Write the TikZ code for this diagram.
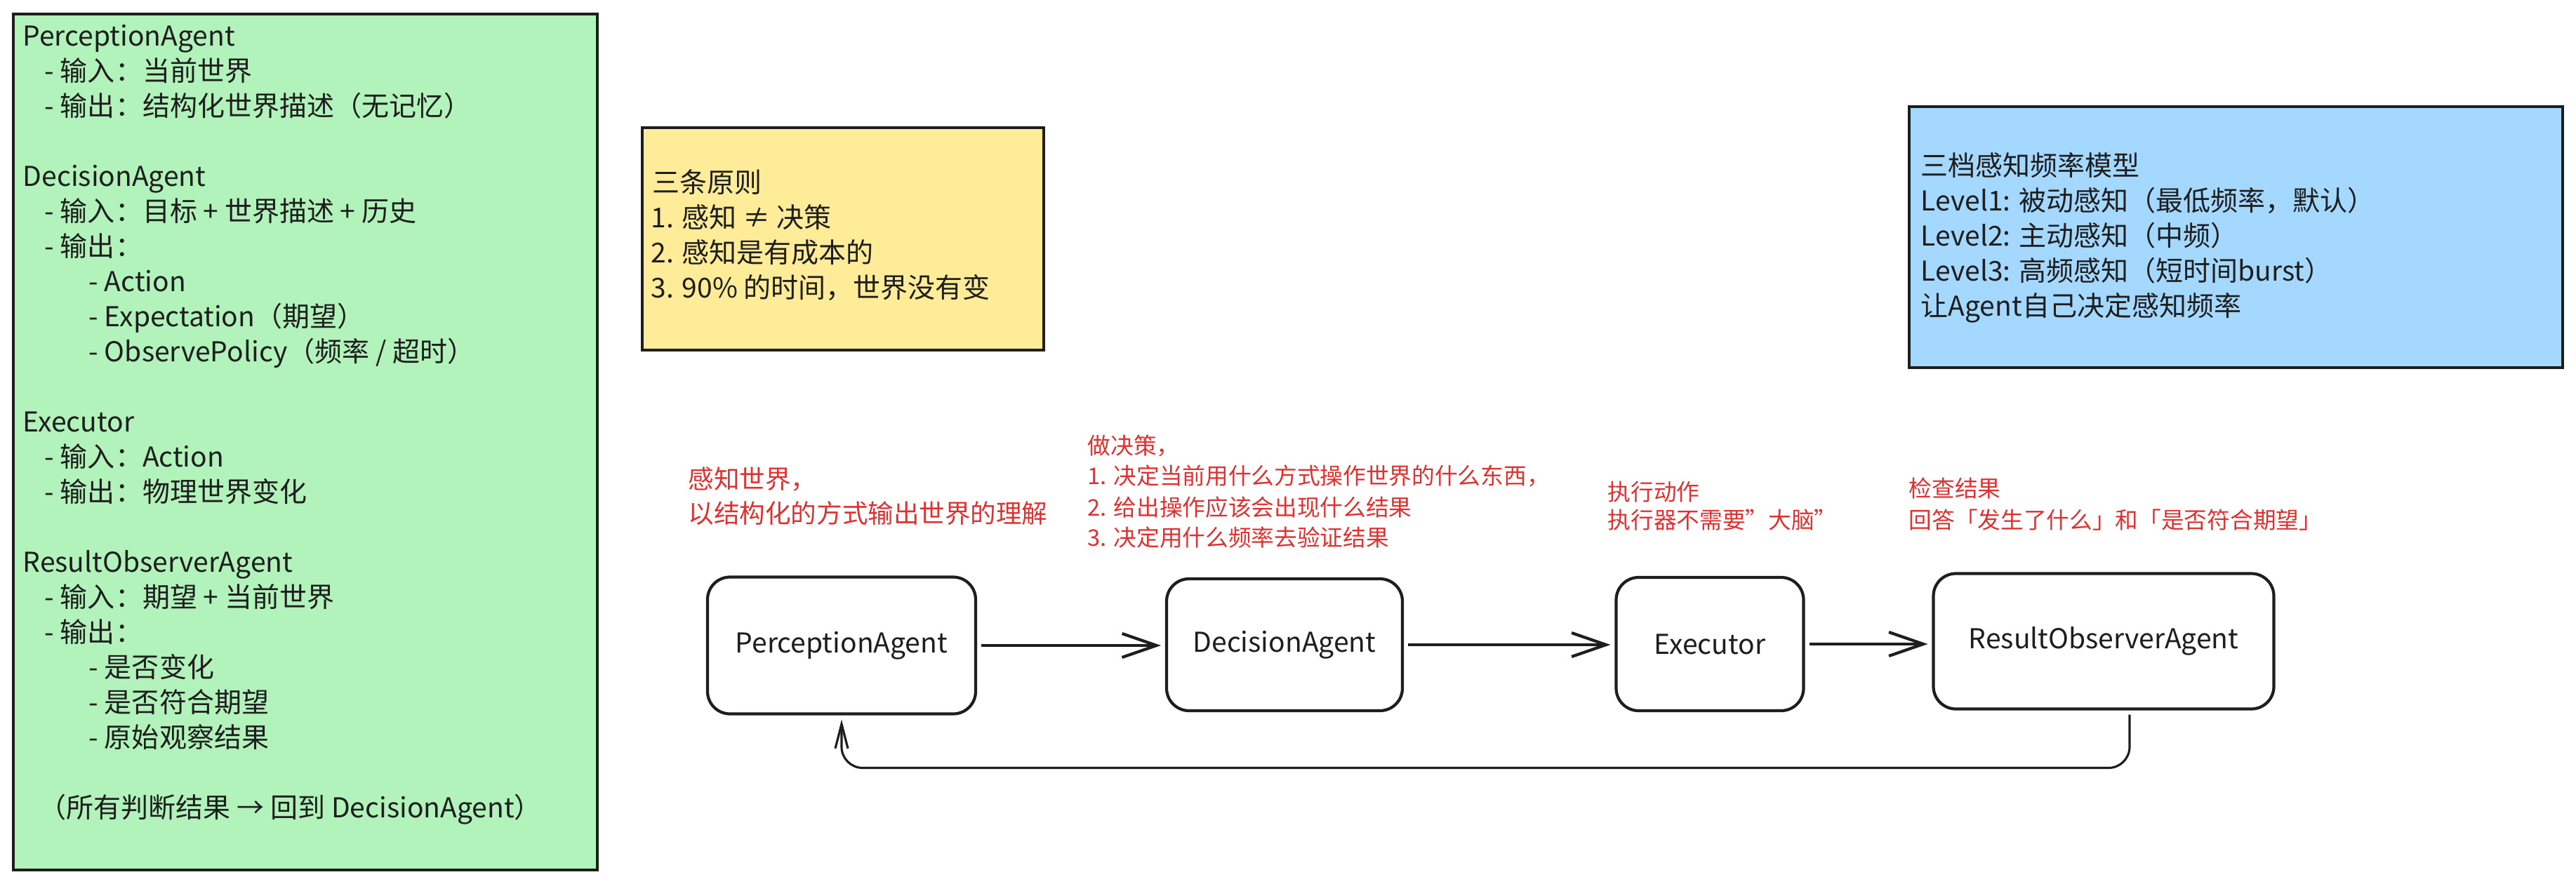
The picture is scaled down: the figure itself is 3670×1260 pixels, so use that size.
\documentclass[tikz,border=0pt]{standalone}
\usepackage{fontspec}
\setmainfont{Noto Sans CJK SC}
\usetikzlibrary{arrows.meta}
\definecolor{ink}{HTML}{1E1E1E}
\definecolor{notegreen}{HTML}{B2F2BB}
\definecolor{noteyellow}{HTML}{FFEC99}
\definecolor{noteblue}{HTML}{A5D8FF}
\definecolor{remark}{HTML}{E03131}
\begin{document}
\begin{tikzpicture}[x=0.1mm,y=-0.1mm,
  txt/.style={anchor=base west,inner sep=0pt,text=ink,font=\fontsize{11.1pt}{14pt}\selectfont},
  rem/.style={anchor=base west,inner sep=0pt,text=remark,font=\fontsize{9.3pt}{12pt}\selectfont},
  note/.style={draw=ink,line width=1.3pt},
  agent/.style={draw=ink,line width=1.2pt,rounded corners=3.2mm,fill=white,text=ink,
    font=\fontsize{11.1pt}{14pt}\selectfont,inner sep=0pt,outer sep=0.8mm},
  flow/.style={draw=ink,line width=1.2pt,-{Straight Barb[length=4.9mm,width=3.4mm]}},
  back/.style={draw=ink,line width=0.9pt,rounded corners=3mm,-{Straight Barb[length=3.5mm,width=1.8mm]}}]
\fill[white] (0,0) rectangle (3670,1260);
\useasboundingbox (0,0) rectangle (3670,1260);

\draw[note,fill=notegreen] (19,20) rectangle (851,1240);
\draw[note,fill=noteyellow] (915,182) rectangle (1487,499);
\draw[note,fill=noteblue] (2720,152) rectangle (3651,524);

\draw (32,65) node[txt] (g1) {PerceptionAgent}
      (63,115) node[txt] (g2) {- 输入：当前世界}
      (63,165) node[txt] (g3) {- 输出：结构化世界描述（无记忆）}
      (32,265) node[txt] (g4) {DecisionAgent}
      (63,315) node[txt] (g5) {- 输入：目标 + 世界描述 + 历史}
      (63,365) node[txt] (g6) {- 输出：}
      (126,415) node[txt] (g7) {- Action}
      (126,465) node[txt] (g8) {- Expectation（期望）}
      (126,515) node[txt] (g9) {- ObservePolicy（频率 / 超时）}
      (32,615) node[txt] (g10) {Executor}
      (63,665) node[txt] (g11) {- 输入：Action}
      (63,715) node[txt] (g12) {- 输出：物理世界变化}
      (32,815) node[txt] (g13) {ResultObserverAgent}
      (63,865) node[txt] (g14) {- 输入：期望 + 当前世界}
      (63,915) node[txt] (g15) {- 输出：}
      (126,965) node[txt] (g16) {- 是否变化}
      (126,1015) node[txt] (g17) {- 是否符合期望}
      (126,1065) node[txt] (g18) {- 原始观察结果}
      (55,1165) node[txt] (g19) {（所有判断结果 → 回到 DecisionAgent）};

\draw (929,274) node[txt] (y1) {三条原则}
      (927,324) node[txt] (y2) {1. 感知 ≠ 决策}
      (927,374) node[txt] (y3) {2. 感知是有成本的}
      (927,424) node[txt] (y4) {3. 90\% 的时间，世界没有变};

\draw (2736,250) node[txt] (b1) {三档感知频率模型}
      (2736,300) node[txt] (b2) {Level1: 被动感知（最低频率，默认）}
      (2736,350) node[txt] (b3) {Level2: 主动感知（中频）}
      (2736,400) node[txt] (b4) {Level3: 高频感知（短时间burst）}
      (2736,450) node[txt] (b5) {让Agent自己决定感知频率};

\draw (980,696) node[rem,font=\fontsize{10.4pt}{13pt}\selectfont] (r1) {感知世界，}
      (980,745) node[rem,font=\fontsize{10.4pt}{13pt}\selectfont] (r2) {以结构化的方式输出世界的理解}
      (1549,647) node[rem] (r3) {做决策，}
      (1549,690) node[rem] (r4) {1. 决定当前用什么方式操作世界的什么东西，}
      (1549,735) node[rem] (r5) {2. 给出操作应该会出现什么结果}
      (1549,778) node[rem] (r6) {3. 决定用什么频率去验证结果}
      (2290,713) node[rem] (r7) {执行动作}
      (2290,753) node[rem] (r8) {执行器不需要"大脑"}
      (2719,708) node[rem] (r9) {检查结果}
      (2719,753) node[rem] (r10) {回答「发生了什么」和「是否符合期望」};

\node[agent,minimum width=38.2mm,minimum height=19.5mm] (pa) at (1199,920) {PerceptionAgent};
\node[agent,minimum width=33.6mm,minimum height=18.8mm] (da) at (1830,919) {DecisionAgent};
\node[agent,minimum width=26.7mm,minimum height=19mm] (ex) at (2436,918) {Executor};
\node[agent,minimum width=48.5mm,minimum height=19.3mm] (roa) at (2997,914) {ResultObserverAgent};

\draw[flow] (pa) -- (pa -| da.west);
\draw[flow] (da) -- (da -| ex.west);
\draw[flow] (ex) -- (ex -| roa.west);
\coordinate (fbtop) at ([xshift=3.7mm]roa.south);
\draw[back] (fbtop) -- ++(0,76) -| (pa.south);
\end{tikzpicture}
\end{document}
